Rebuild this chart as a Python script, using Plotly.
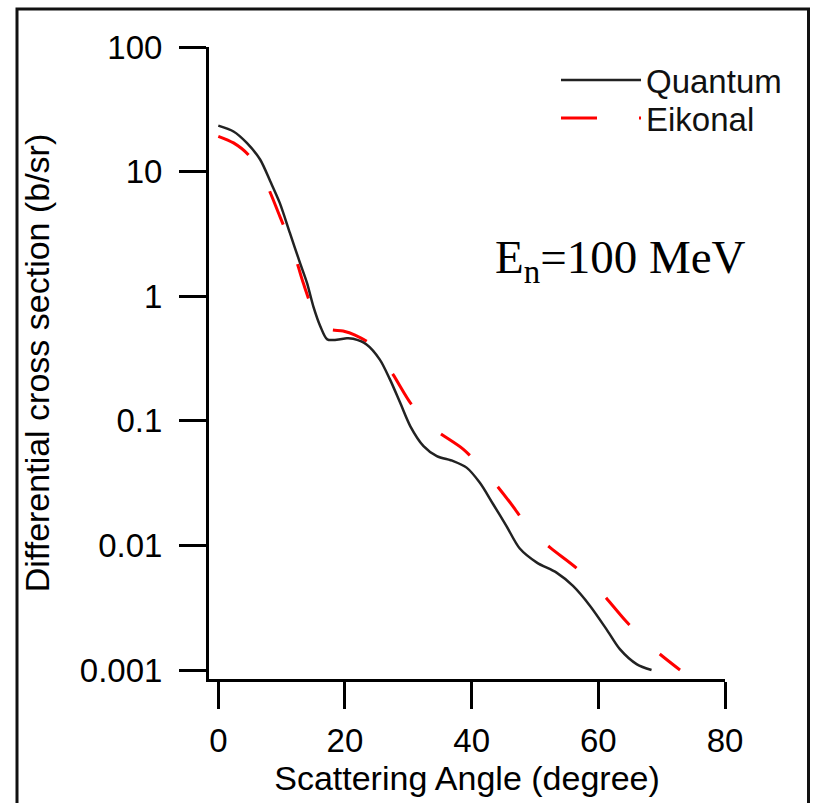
import plotly.graph_objects as go

# Quantum calculation (angle in degrees, cross section in b/sr)
quantum_angle = [0, 2.4, 4.5, 6.6, 8.2, 9.7, 11.3, 12.9, 14.0, 15.0, 16.1, 17.2, 18.7, 20.3,
                 21.3, 23.4, 25.5, 27.1, 28.7, 30.3, 32.4, 34.5, 37.1, 39.2, 41.3, 43.4,
                 45.5, 47.6, 50.3, 53.4, 56.0, 58.7, 61.3, 63.4, 66.1, 68.4]
quantum_xs = [23.4, 21.0, 17.0, 12.5, 8.36, 5.61, 3.22, 1.85, 1.28, 0.83, 0.575, 0.45, 0.447, 0.459,
              0.455, 0.41, 0.31, 0.215, 0.14, 0.0908, 0.0627, 0.0521, 0.0475, 0.0421, 0.0318, 0.0214,
              0.0143, 0.00944, 0.00728, 0.00605, 0.00473, 0.00327, 0.00212, 0.00147, 0.00111, 0.00100]

# Eikonal approximation
eikonal_angle = [0, 2.4, 4.7, 7.6, 9.7, 11.8, 13.4, 15.3, 17.2, 19.7, 21.5, 24.5, 27.6, 30.5,
                 34.2, 38.7, 42.5, 46.1, 49.2, 52.4, 56.6, 60.5, 64.2, 68.2, 72.9]
eikonal_xs = [19.2, 17.0, 13.7, 7.89, 4.39, 2.37, 1.28, 0.713, 0.55, 0.525, 0.49, 0.398, 0.235, 0.1355,
              0.0853, 0.059, 0.0372, 0.022, 0.01346, 0.0096, 0.00655, 0.00418, 0.00252, 0.00156, 0.001]

x_ticks = [0, 20, 40, 60, 80]
y_ticks = [0.001, 0.01, 0.1, 1, 10, 100]
y_tick_labels = ["0.001", "0.01", "0.1", "1", "10", "100"]

FONT = "Arial, Liberation Sans, sans-serif"

fig = go.Figure()
fig.add_trace(go.Scatter(
    x=eikonal_angle, y=eikonal_xs, mode="lines", name="Eikonal", legend="legend2",
    line=dict(color="#ff0000", width=3, dash="36px,42px", shape="spline", smoothing=0.8)))
fig.add_trace(go.Scatter(
    x=quantum_angle, y=quantum_xs, mode="lines", name="Quantum", legend="legend",
    line=dict(color="#222222", width=2.5, shape="spline", smoothing=0.8)))

axis_common = dict(
    showline=True, linecolor="black", linewidth=3,
    ticks="outside", ticklen=27, tickwidth=3, tickcolor="black",
    showgrid=False, zeroline=False, automargin=False,
    tickfont=dict(family=FONT, size=33, color="black"),
)

fig.update_xaxes(range=[-1.47, 80], tickvals=x_ticks, ticklabelstandoff=3,
                 title=dict(text="Scattering Angle (degree)", font=dict(family=FONT, size=34, color="black"),
                            standoff=2),
                 **axis_common)
fig.update_yaxes(type="log", range=[-3.072, 2], tickvals=y_ticks, ticktext=y_tick_labels,
                 ticklabelstandoff=10,
                 title=dict(text="Differential cross section (b/sr)", font=dict(family=FONT, size=34, color="black"),
                            standoff=20),
                 **axis_common)

fig.add_annotation(
    xref="paper", yref="paper", x=(493 - 209) / 516, y=(679 - 260) / 632,
    xanchor="left", yanchor="middle", showarrow=False,
    text="E<sub>n</sub>=100 MeV", font=dict(family="Liberation Serif, Times New Roman, serif", size=47, color="black"))

# outer frame
fig.add_shape(type="rect", xref="paper", yref="paper",
              x0=(17 - 209) / 516, x1=(808.5 - 209) / 516,
              y0=(679 - 820) / 632, y1=(679 - 9) / 632,
              line=dict(color="#111111", width=3), fillcolor="rgba(0,0,0,0)", layer="below")

legend_common = dict(xanchor="left", yanchor="middle", bgcolor="rgba(0,0,0,0)",
                     font=dict(family=FONT, size=33, color="#111111"), itemwidth=80)

fig.update_layout(
    width=813, height=803, autosize=False,
    margin=dict(l=209, r=88, t=47, b=124),
    paper_bgcolor="white", plot_bgcolor="white",
    showlegend=True,
    legend=dict(x=(556 - 209) / 516, y=(679 - 80) / 632, **legend_common),
    legend2=dict(x=(556 - 209) / 516, y=(679 - 118) / 632, **legend_common),
)

fig.write_html("out.html")
